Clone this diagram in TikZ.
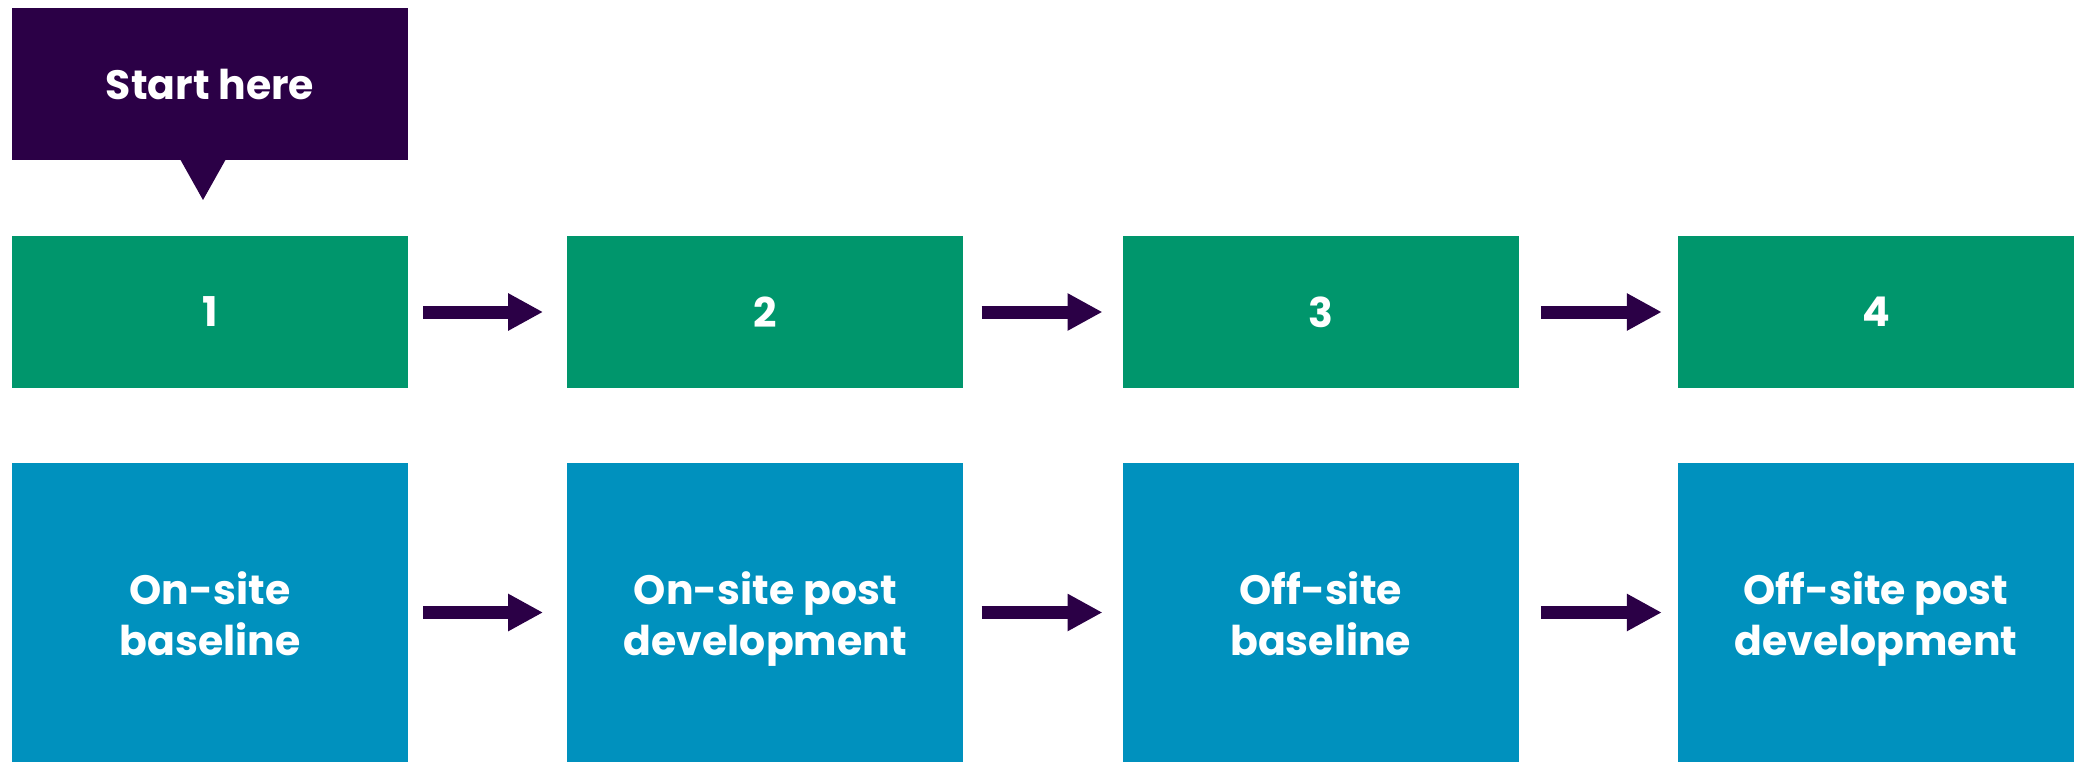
\documentclass[tikz,border=0pt]{standalone}
\usepackage{fontspec}
\setmainfont{Poppins}
\usetikzlibrary{arrows.meta}

\definecolor{startpurple}{RGB}{43,0,70}
\definecolor{stepgreen}{RGB}{0,150,108}
\definecolor{stageblue}{RGB}{0,145,190}

\tikzset{
  box/.style={rectangle, inner sep=0pt, minimum width=396pt, text=white,
    align=center, font=\fontsize{41}{51}\selectfont\bfseries},
  startbox/.style={box, fill=startpurple, minimum height=152pt},
  numbox/.style={box, fill=stepgreen, minimum height=152pt},
  stagebox/.style={box, fill=stageblue, minimum height=299pt,
    text height=85pt, text depth=0pt},
  flow/.style={startpurple, line width=13pt,
    -{Triangle[length=35pt,width=35pt]}, shorten <=15pt, shorten >=24pt}
}

\begin{document}
\begin{tikzpicture}[x=1pt,y=-1pt]
% canvas in pixel units
\useasboundingbox (0,0) rectangle (2080,762);

% start marker
\node[startbox] (start) at (210,84) {Start here};
\fill[startpurple] (180,159) -- (203,200) -- (226,159) -- cycle;

% numbered steps
\node[numbox] (n1) at (210,312) {1};
\node[numbox] (n2) at (765.3,312) {2};
\node[numbox] (n3) at (1320.7,312) {3};
\node[numbox] (n4) at (1876,312) {4};

% stages
\node[stagebox] (s1) at (210,612.5) {On-site\\baseline};
\node[stagebox] (s2) at (765.3,612.5) {On-site post\\development};
\node[stagebox] (s3) at (1320.7,612.5) {Off-site\\baseline};
\node[stagebox] (s4) at (1876,612.5) {Off-site post\\development};

% arrows
\draw[flow] (n1) -- (n2);
\draw[flow, shorten <=18pt, shorten >=20pt] (n2) -- (n3);
\draw[flow, shorten <=22pt, shorten >=16pt] (n3) -- (n4);
\draw[flow] (s1) -- (s2);
\draw[flow, shorten <=18pt, shorten >=20pt] (s2) -- (s3);
\draw[flow, shorten <=22pt, shorten >=16pt] (s3) -- (s4);
\end{tikzpicture}
\end{document}
